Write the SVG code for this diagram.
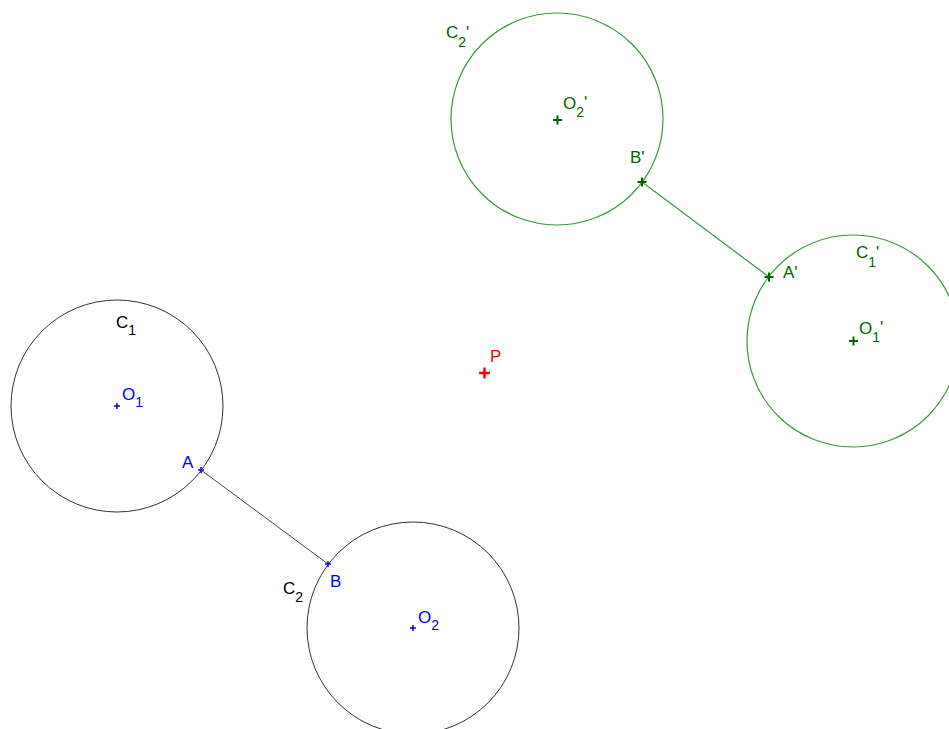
<svg xmlns="http://www.w3.org/2000/svg" width="949" height="729" viewBox="0 0 949 729">
<style>
text{font-family:"Liberation Sans",Arial,sans-serif;font-size:17px}
.sub{font-size:14px}
.blk{fill:#000}
.blu{fill:#0000ff}
.grn{fill:#006400}
.red{fill:#ff0000}
.cb{fill:none;stroke:#333;stroke-width:1}
.cg{fill:none;stroke:#3a9a3a;stroke-width:1.2}
.xb{stroke:#0000ff;stroke-width:1.5}
.xg{stroke:#006400;stroke-width:2}
.xr{stroke:#ff0000;stroke-width:2.5}
</style>
<rect width="949" height="729" fill="#fff"/>
<g id="connectors">
<line x1="201" y1="470" x2="328" y2="564" stroke="#444" stroke-width="1"/>
<line x1="769" y1="277" x2="642" y2="182" stroke="#3a9a3a" stroke-width="1.2"/>
</g>
<g id="C1"><circle class="cb" cx="117" cy="406" r="106"/><text class="blk" x="116" y="328">C<tspan class="sub" dy="7">1</tspan></text></g>
<g id="C2"><circle class="cb" cx="413" cy="628" r="106"/><text class="blk" x="283" y="594">C<tspan class="sub" dy="8">2</tspan></text></g>
<g id="C2p"><circle class="cg" cx="557" cy="119" r="106"/><text class="grn" x="446" y="38">C<tspan class="sub" dy="9">2</tspan><tspan dy="-9">'</tspan></text></g>
<g id="C1p"><circle class="cg" cx="853" cy="341" r="106"/><text class="grn" x="856" y="258">C<tspan class="sub" dy="9">1</tspan><tspan dy="-9">'</tspan></text></g>
<g id="O1"><path class="xb" d="M114 406h6M117 403v6"/><text class="blu" x="122" y="400">O<tspan class="sub" dy="7">1</tspan></text></g>
<g id="O2"><path class="xb" d="M410 628h6M413 625v6"/><text class="blu" x="418" y="623">O<tspan class="sub" dy="7">2</tspan></text></g>
<g id="A"><path class="xb" d="M198 470h6M201 467v6"/><text class="blu" x="182" y="468">A</text></g>
<g id="B"><path class="xb" d="M325 564h6M328 561v6"/><text class="blu" x="330" y="587">B</text></g>
<g id="P"><path class="xr" d="M479 373h11M484.5 367.5v11"/><text class="red" x="490" y="362">P</text></g>
<g id="O2p"><path class="xg" d="M553 120h9M557.5 115.5v9"/><text class="grn" x="563" y="109">O<tspan class="sub" dy="8">2</tspan><tspan dy="-9">'</tspan></text></g>
<g id="O1p"><path class="xg" d="M849 341h9M853.5 336.5v9"/><text class="grn" x="859" y="334">O<tspan class="sub" dy="8">1</tspan><tspan dy="-9">'</tspan></text></g>
<g id="Bp"><path class="xg" d="M637.5 182h9M642 177.5v9"/><text class="grn" x="630" y="163">B'</text></g>
<g id="Ap"><path class="xg" d="M764.5 277h9M769 272.5v9"/><text class="grn" x="783" y="278">A'</text></g>
</svg>
